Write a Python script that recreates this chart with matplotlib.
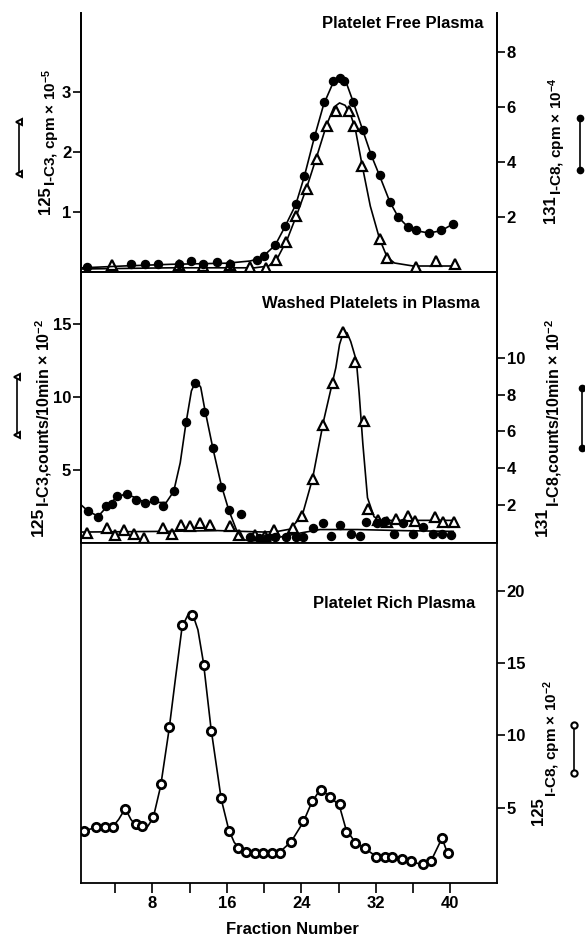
import matplotlib
matplotlib.use('Agg')
import matplotlib.pyplot as plt
from matplotlib.lines import Line2D

plt.rcParams['font.family'] = ['Liberation Sans', 'DejaVu Sans']
plt.rcParams['font.weight'] = 'bold'
plt.rcParams['mathtext.default'] = 'regular'

# --- Platelet Free Plasma ---
# 131I-C8 (filled circles, right axis)
top_circ_x = [1.0, 5.7, 7.2, 8.6, 10.9, 12.2, 13.4, 15.0, 16.3, 19.2, 20.0, 21.2, 22.2, 23.4, 24.3, 25.4,
              26.4, 27.4, 28.1, 28.6, 29.5, 30.6, 31.5, 32.4, 33.5, 34.4, 35.4, 36.3, 37.7, 39.0, 40.3]
top_circ_y = [0.18, 0.29, 0.29, 0.29, 0.29, 0.4, 0.29, 0.36, 0.29, 0.44, 0.58, 0.98, 1.67, 2.47, 3.49, 4.95,
              6.18, 6.95, 7.05, 6.95, 6.18, 5.16, 4.25, 3.53, 2.55, 2.0, 1.64, 1.53, 1.42, 1.53, 1.75]
top_circ_fit_x = [0.4, 5, 10, 16, 18.5, 19.2, 20.0, 21.2, 22.2, 23.4, 24.3, 25.4, 26.4, 27.3, 28.0, 28.7,
                  29.5, 30.6, 31.5, 32.4, 33.5, 34.4, 35.4, 36.3, 37.7, 39.0, 40.3]
top_circ_fit_y = [0.15, 0.22, 0.28, 0.32, 0.4, 0.46, 0.6, 0.98, 1.62, 2.45, 3.45, 4.9, 6.1, 6.8, 7.1, 7.0,
                  6.25, 5.15, 4.25, 3.5, 2.55, 2.0, 1.65, 1.5, 1.42, 1.5, 1.75]
# 125I-C3 (open triangles, left axis)
top_tri_x = [3.7, 10.9, 13.4, 16.3, 18.5, 20.2, 21.3, 22.4, 23.4, 24.6, 25.7, 26.7, 27.7, 29.1, 29.7,
             30.5, 32.4, 33.2, 36.3, 38.4, 40.5]
top_tri_y = [0.12, 0.12, 0.1, 0.12, 0.08, 0.07, 0.2, 0.5, 0.94, 1.38, 1.88, 2.43, 2.69, 2.69, 2.43,
             1.76, 0.55, 0.23, 0.08, 0.18, 0.13]
top_tri_fit_x = [0.3, 10, 19, 20.5, 21.5, 22.5, 23.5, 24.6, 25.7, 26.7, 27.5, 28.1, 28.7, 29.3, 29.8,
                 30.5, 31.4, 32.4, 33.2, 34.0, 36.0, 40.5]
top_tri_fit_y = [0.05, 0.07, 0.07, 0.1, 0.25, 0.55, 0.95, 1.42, 1.95, 2.45, 2.75, 2.82, 2.78, 2.62, 2.38,
                 1.8, 1.1, 0.55, 0.25, 0.15, 0.1, 0.1]

# --- Washed Platelets in Plasma ---
mid_circ_x = [1.1, 2.2, 3.0, 3.7, 4.2, 5.3, 6.3, 7.2, 8.2, 9.1, 10.3, 11.6, 12.6, 13.6, 14.5, 15.4, 16.2,
              17.5, 18.5, 19.5, 20.3, 21.2, 22.3, 23.4, 24.2, 25.2, 26.3, 27.2, 28.2, 29.3, 30.3, 30.9,
              32.1, 33.0, 33.9, 34.9, 36.0, 37.1, 38.1, 39.1, 40.1]
mid_circ_y = [1.68, 1.35, 1.95, 2.08, 2.5, 2.6, 2.27, 2.1, 2.27, 1.97, 2.78, 6.5, 8.65, 7.08, 5.08, 3.0, 1.73,
              1.54, 0.25, 0.2, 0.2, 0.27, 0.27, 0.27, 0.27, 0.76, 1.03, 0.32, 0.92, 0.43, 0.32, 1.08,
              1.03, 1.14, 0.43, 1.03, 0.43, 0.81, 0.43, 0.43, 0.38]
mid_circ_fit_x = [0.4, 1.1, 2.2, 3.0, 4.0, 5.0, 6.0, 7.0, 8.0, 9.5, 10.3, 11.0, 11.6, 12.2, 12.7, 13.2,
                  13.6, 14.5, 15.4, 16.2, 17.0, 17.7, 18.5, 20.5, 22.0, 24.0, 26.0, 30.0, 35.0, 40.3]
mid_circ_fit_y = [2.0, 1.68, 1.4, 1.85, 2.35, 2.6, 2.45, 2.2, 2.15, 2.15, 2.75, 4.3, 6.4, 8.2, 8.75, 8.4,
                  7.3, 5.1, 3.1, 1.75, 0.7, 0.15, 0.05, 0.15, 0.3, 0.5, 0.68, 0.68, 0.62, 0.58]
mid_tri_x = [1.0, 3.1, 4.05, 5.0, 6.0, 7.1, 9.1, 10.1, 11.1, 12.1, 13.1, 14.2, 16.3, 17.3, 19.0, 20.1,
             21.1, 23.1, 24.1, 25.2, 26.3, 27.4, 28.5, 29.8, 30.7, 31.2, 32.2, 33.2, 34.2, 35.4, 36.2,
             38.3, 39.2, 40.4]
mid_tri_y = [0.68, 1.06, 0.58, 0.92, 0.62, 0.34, 1.06, 0.62, 1.23, 1.16, 1.4, 1.23, 1.16, 0.55, 0.55, 0.5,
             0.89, 1.03, 1.85, 4.38, 8.08, 10.96, 14.45, 12.4, 8.36, 2.33, 1.58, 1.44, 1.64, 1.85, 1.51,
             1.78, 1.44, 1.44]
mid_tri_fit_x = [0.4, 10, 15, 20, 21.5, 22.8, 24.1, 25.2, 26.4, 27.7, 28.1, 28.5, 28.9, 29.3, 29.9, 30.2,
                 30.6, 31.1, 31.8, 32.5, 40.5]
mid_tri_fit_y = [0.75, 0.8, 0.85, 0.75, 0.8, 0.95, 1.9, 4.4, 8.4, 12.0, 13.6, 14.4, 14.4, 13.8, 12.5, 10.3,
                 6.8, 3.1, 1.8, 1.55, 1.55]

# --- Platelet Rich Plasma --- 125I-C8 (open circles)
bot_x = [0.65, 1.95, 2.9, 3.8, 5.1, 6.2, 6.9, 8.1, 8.9, 9.8, 11.2, 12.3, 13.5, 14.3, 15.4, 16.2, 17.2,
         18.1, 19.0, 19.9, 20.9, 21.7, 22.9, 24.2, 25.1, 26.1, 27.1, 28.1, 28.8, 29.8, 30.8, 32.0, 33.0,
         33.7, 34.8, 35.8, 37.1, 37.9, 39.1, 39.7]
bot_y = [3.4, 3.67, 3.67, 3.67, 4.9, 3.88, 3.74, 4.35, 6.67, 10.6, 17.6, 18.3, 14.9, 10.3, 5.7, 3.4, 2.24,
         1.97, 1.9, 1.84, 1.84, 1.9, 2.65, 4.08, 5.44, 6.26, 5.71, 5.24, 3.33, 2.59, 2.24, 1.63, 1.63,
         1.63, 1.43, 1.29, 1.09, 1.29, 2.92, 1.84]
bot_fit_x = [0.3, 0.65, 1.95, 2.9, 3.8, 4.4, 5.1, 5.7, 6.2, 6.9, 7.5, 8.1, 8.9, 9.8, 10.5, 11.2, 11.8, 12.3,
             12.9, 13.5, 14.3, 15.4, 16.2, 16.8, 17.5, 18.1, 19.0, 20.0, 21.0, 21.7, 22.9, 24.2, 25.1,
             25.7, 26.1, 27.1, 28.1, 28.8, 29.8, 30.8, 32.0, 33.0, 33.7, 34.8, 35.8, 37.1, 37.5, 37.9,
             39.1, 39.7]
bot_fit_y = [3.35, 3.42, 3.62, 3.67, 3.72, 4.2, 4.95, 4.2, 3.8, 3.62, 3.7, 4.3, 6.5, 10.4, 14.0, 17.5, 18.3,
             18.45, 17.3, 15.0, 10.5, 5.6, 3.5, 2.6, 2.15, 1.95, 1.85, 1.8, 1.82, 1.95, 2.65, 4.0, 5.35,
             5.95, 6.2, 5.8, 5.1, 3.5, 2.6, 2.2, 1.65, 1.6, 1.58, 1.42, 1.28, 1.05, 0.95, 1.3, 2.9, 1.84]

x_ticks = list(range(4, 41, 4))
x_labels = [str(t) if t % 8 == 0 else '' for t in x_ticks]

W, H = 585, 940
fig = plt.figure(figsize=(W / 100, H / 100), dpi=100)


def box(top, bottom, left=81, right=497):
    return [left / W, 1 - bottom / H, (right - left) / W, (bottom - top) / H]


def fx(px):
    return px / W


def fy(py):
    return 1 - py / H


LW = 1.2
circ = dict(marker='o', ms=5.8, mfc='black', mec='black', ls='none')
tri = dict(marker='^', ms=7.5, mfc='white', mec='black', mew=1.6, ls='none')
ocirc = dict(marker='o', ms=6, mfc='white', mec='black', mew=2.0, ls='none')


def style(ax):
    for s in ax.spines.values():
        s.set_linewidth(1.3)
    ax.tick_params(width=1.2, length=6, direction='out', labelsize=12, pad=1)


ax1 = fig.add_axes(box(13, 272))
ax1r = ax1.twinx()
ax2 = fig.add_axes(box(272, 543))
ax2r = ax2.twinx()
ax3 = fig.add_axes(box(543, 883))

for ax in (ax1, ax1r, ax2, ax2r, ax3):
    style(ax)
    ax.set_xlim(0.35, 45.0)
    ax.set_xticks(x_ticks)
    ax.tick_params(axis='x', length=7)
for ax in (ax1, ax1r):
    ax.spines['top'].set_visible(False)
for ax in (ax1, ax2):
    ax.tick_params(axis='x', labelbottom=False)

# top panel
ax1.plot(top_tri_fit_x, top_tri_fit_y, color='black', lw=LW)
ax1.plot(top_tri_x, top_tri_y, **tri)
ax1.set_ylim(0, 4.32)
ax1.set_yticks([1, 2, 3])
ax1r.plot(top_circ_fit_x, top_circ_fit_y, color='black', lw=LW)
ax1r.plot(top_circ_x, top_circ_y, **circ)
ax1r.set_ylim(0, 9.42)
ax1r.set_yticks([2, 4, 6, 8])

# middle panel
ax2.plot(mid_tri_fit_x, mid_tri_fit_y, color='black', lw=LW)
ax2.plot(mid_tri_x, mid_tri_y, **tri)
ax2.set_ylim(0, 18.56)
ax2.set_yticks([5, 10, 15])
ax2r.plot(mid_circ_fit_x, mid_circ_fit_y, color='black', lw=LW)
ax2r.plot(mid_circ_x, mid_circ_y, **circ)
ax2r.set_ylim(-0.05, 14.65)
ax2r.set_yticks([2, 4, 6, 8, 10])

# bottom panel
ax3.plot(bot_fit_x, bot_fit_y, color='black', lw=LW)
ax3.plot(bot_x, bot_y, **ocirc)
ax3.set_ylim(-0.2, 23.3)
ax3.yaxis.tick_right()
ax3.set_yticks([5, 10, 15, 20])
ax3.set_xticklabels(x_labels)
ax3.tick_params(axis='x', pad=2)

# panel titles
fig.text(fx(483), fy(23), 'Platelet Free Plasma', ha='right', va='center', fontsize=12)
fig.text(fx(480), fy(303), 'Washed Platelets in Plasma', ha='right', va='center', fontsize=12)
fig.text(fx(475), fy(603), 'Platelet Rich Plasma', ha='right', va='center', fontsize=12)

fig.text(fx(292), fy(930), 'Fraction Number', ha='center', va='center', fontsize=12)


def ylabel(iso, iso_base, main, main_base, y_start, size=12):
    # isotope number sits raised before the rest of the label
    fig.text(fx(iso_base), fy(y_start), iso, rotation=90, rotation_mode='anchor',
             ha='right', va='baseline', fontsize=size)
    fig.text(fx(main_base), fy(y_start), main, rotation=90, rotation_mode='anchor',
             ha='left', va='baseline', fontsize=size - 1)


ylabel('125', 50, r'I-C3, cpm × 10$^{-5}$', 56, 186)
ylabel('131', 555, r'I-C8, cpm × 10$^{-4}$', 562, 195)
ylabel('125', 43, r'I-C3,counts/10min × 10$^{-2}$', 50, 507, size=12.5)
ylabel('131', 547, r'I-C8,counts/10min × 10$^{-2}$', 560, 507, size=12.5)
ylabel('125', 543, r'I-C8, cpm × 10$^{-2}$', 557, 797)


def key(x, y1, y2, **kw):
    fig.add_artist(Line2D([fx(x), fx(x)], [fy(y1), fy(y2)], transform=fig.transFigure,
                          color='black', lw=1.2, **kw))


key(19, 122, 174, marker='<', ms=5, mfc='white', mec='black', mew=1.4)
key(580, 118, 170, marker='o', ms=4.5, mfc='black', mec='black')
key(17, 377, 435, marker='<', ms=5, mfc='white', mec='black', mew=1.4)
key(582, 388, 448, marker='o', ms=4.5, mfc='black', mec='black')
key(574, 725, 773, marker='o', ms=4.5, mfc='white', mec='black', mew=1.5)

fig.savefig('out.png', dpi=100)
